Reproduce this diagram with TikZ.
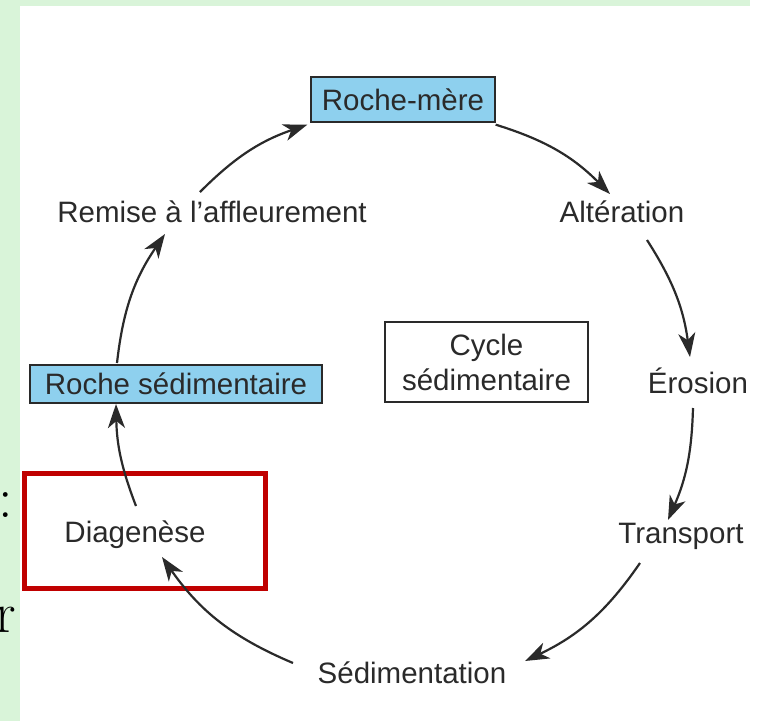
\documentclass[tikz,border=0pt]{standalone}
\usepackage{fontspec}
\setmainfont{Liberation Sans}
\newfontfamily\lmfont{Latin Modern Roman}
\usetikzlibrary{arrows.meta}
\definecolor{slidegreen}{RGB}{217,244,217}
\definecolor{boxblue}{RGB}{142,208,238}
\definecolor{ink}{RGB}{42,42,42}
\definecolor{hlred}{RGB}{192,0,0}
\begin{document}
\begin{tikzpicture}[x=1pt,y=-1pt,
  every node/.style={font=\fontsize{29.5}{35}\selectfont, text=ink},
  lbl/.style={inner sep=0pt, anchor=base},
  bluebox/.style={draw=ink, line width=1.3pt, fill=boxblue, inner sep=0pt},
  cyclebox/.style={draw=ink, line width=1.5pt, inner sep=0pt, align=center},
  hlbox/.style={draw=hlred, line width=5pt, inner sep=0pt},
  flow/.style={draw=ink, line width=2.2pt, -{Stealth[length=24pt,width=17pt,inset=7pt]}},
  slidetext/.style={font=\lmfont\fontsize{58}{60}\selectfont, text=black, inner sep=0pt}
]
\useasboundingbox (0,0) rectangle (764,721);
\fill[white] (0,0) rectangle (764,721);
\fill[slidegreen] (0,0) rectangle (20,721);
\fill[slidegreen] (0,0) rectangle (750,6);

% slide text partially visible on the left
\node[slidetext, anchor=base] (colon) at (5.5,517) {:};
\node[slidetext, anchor=base east] (rchar) at (16,632) {r};

% boxes
\node[bluebox, minimum width=184pt, minimum height=45pt] (rm) at (403,99.5) {Roche-mère};
\node[bluebox, minimum width=292pt, minimum height=38pt] (rs) at (176,384) {Roche sédimentaire};
\node[cyclebox, minimum width=203pt, minimum height=80pt] (cyc) at (486.5,362) {Cycle\\sédimentaire};

% labels
\node[lbl] (rem)  at (212,222) {Remise à l’affleurement};
\node[lbl] (alt)  at (622,222) {Altération};
\node[lbl] (ero)  at (698,393) {Érosion};
\node[lbl] (tra)  at (681,543) {Transport};
\node[lbl] (sed)  at (412,683) {Sédimentation};
\node[lbl] (diag) at (135,542) {Diagenèse};

% highlight
\node[hlbox, minimum width=241pt, minimum height=115pt] (hl) at (145,531) {};

% cycle arrows
\draw[flow] ([shift={(0,2)}]rm.south east) to[bend left=14] ([shift={(-12,-28)}]alt.base);
\draw[flow] ([shift={(25,18)}]alt.base) to[bend left=12.5] ([shift={(-8,-36)}]ero.base);
\draw[flow] ([shift={(-5,15)}]ero.base) to[bend left=11] ([shift={(-13,-23)}]tra.base);
\draw[flow] ([shift={(-41,20)}]tra.base) to[bend left=15] ([shift={(113,-22)}]sed.base);
\draw[flow] ([shift={(-119,-20)}]sed.base) to[bend left=16] ([shift={(27,15)}]diag.base);
\draw[flow] ([shift={(1,-36)}]diag.base) to[bend left=10] ([shift={(-60,20)}]rs.center);
\draw[flow] ([shift={(-59,-21)}]rs.center) to[bend left=14] ([shift={(-47,12)}]rem.base);
\draw[flow] ([shift={(-12,-30)}]rem.base) to[bend left=13] ([shift={(-3,2)}]rm.south west);
\end{tikzpicture}
\end{document}
